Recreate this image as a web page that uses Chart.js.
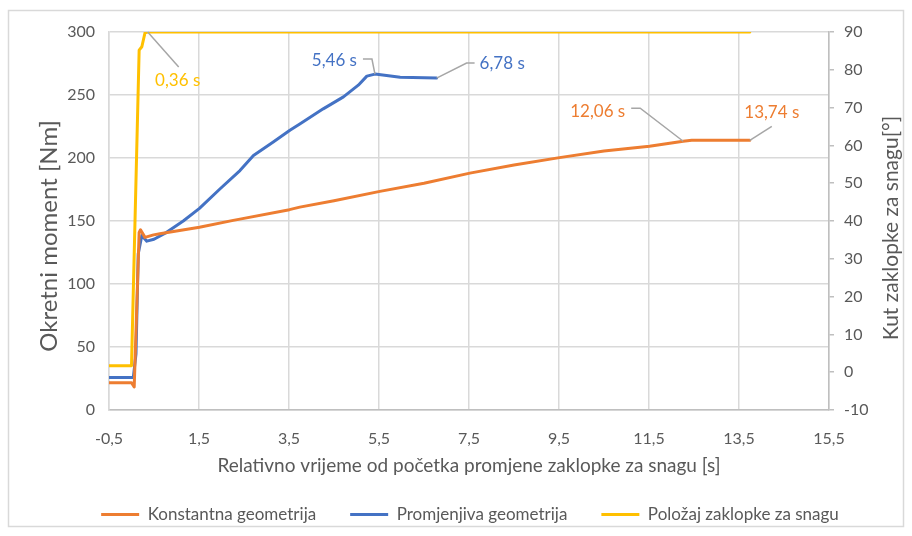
<!DOCTYPE html>
<html>
<head>
<meta charset="utf-8">
<script src="https://cdn.jsdelivr.net/npm/chart.js@4.4.0/dist/chart.umd.min.js"></script>
<style>
  body { margin: 0; background: #fff; }
</style>
</head>
<body>
<canvas id="myChart" width="912" height="536"></canvas>
<script>
const xTicks = [-0.5, 1.5, 3.5, 5.5, 7.5, 9.5, 11.5, 13.5, 15.5];
const seriesNames = ['Konstantna geometrija', 'Promjenjiva geometrija', 'Položaj zaklopke za snagu'];
const axisTitles = ['Relativno vrijeme od početka promjene zaklopke za snagu [s]', 'Okretni moment [Nm]', 'Kut zaklopke za snagu[°]'];

// Konstantna geometrija [Nm]
const constTime = [-0.5, 0.0, 0.06, 0.17, 0.2, 0.3, 0.49, 0.63, 1.0, 1.51, 2.26, 2.41, 3.51, 3.74, 4.5, 5.52, 6.5, 7.52, 8.5, 9.51, 10.5, 11.51, 12.26, 12.45, 13.74];
const constTorque = [21.7, 21.7, 18.3, 141, 143, 137, 139, 139.8, 142, 145, 150.5, 151.5, 159, 161, 166, 173.5, 180, 188, 194.5, 200.3, 205.5, 209.3, 213.3, 214, 214];

// Promjenjiva geometrija [Nm]
const varTime = [-0.5, 0.04, 0.1, 0.15, 0.23, 0.34, 0.5, 0.78, 1.15, 1.51, 1.97, 2.41, 2.71, 3.15, 3.52, 3.74, 4.26, 4.71, 5.04, 5.23, 5.41, 5.97, 6.78];
const varTorque = [25.7, 25.7, 44.6, 124, 138.5, 134, 135.5, 141, 150, 160, 175.6, 190, 202, 212.7, 222, 227, 239, 248.5, 257.8, 265, 266.6, 264, 263.4];

// Položaj zaklopke [°]
const flapTime = [-0.5, 0.0, 0.17, 0.23, 0.3, 0.36, 13.74];
const flapAngle = [1.7, 1.7, 85.2, 86.1, 89.8, 90, 90];

const pointLabels = ['0,36 s', '5,46 s', '6,78 s', '12,06 s', '13,74 s'];

const colors = ['#ED7D31', '#4472C4', '#FFC000'];
const textColor = '#595959';
const fontFamily = 'Lato, "Open Sans", sans-serif';

function toPoints(xs, ys) {
    return xs.map((x, i) => ({ x: x, y: ys[i] }));
}
function fmt(v) {
    return String(v).replace('.', ',');
}

// data labels with leader lines (dataset, point index, offsets in px)
const leaders = [
    { ds: 2, idx: 5, text: pointLabels[0], path: [[31, 35]], tx: 30, ty: 49, align: 'center' },
    { ds: 1, idx: 20, text: pointLabels[1], path: [[-3, -15], [-12, -15]], tx: -18, ty: -14, align: 'right' },
    { ds: 1, idx: 22, text: pointLabels[2], path: [[30, -15], [38, -15]], tx: 43, ty: -15, align: 'left' },
    { ds: 0, idx: 22, text: pointLabels[3], path: [[-43, -33], [-52, -33]], tx: -58, ty: -30, align: 'right' },
    { ds: 0, idx: 24, text: pointLabels[4], path: [[22, -14]], tx: 22, ty: -28, align: 'center' }
];

function drawVerticalTitle(ctx, text, x, y, size) {
    ctx.save();
    ctx.translate(x, y);
    ctx.rotate(-Math.PI / 2);
    ctx.fillStyle = textColor;
    ctx.font = size + 'px ' + fontFamily;
    ctx.textAlign = 'center';
    ctx.textBaseline = 'middle';
    ctx.fillText(text, 0, 0);
    ctx.restore();
}

const extras = {
    id: 'extras',
    beforeDraw(chart) {
        const ctx = chart.ctx;
        ctx.save();
        ctx.strokeStyle = '#d9d9d9';
        ctx.lineWidth = 1.5;
        ctx.strokeRect(8.5, 10.5, 895, 516);
        ctx.restore();
    },
    afterDatasetsDraw(chart) {
        const ctx = chart.ctx;
        leaders.forEach(l => {
            const pt = chart.getDatasetMeta(l.ds).data[l.idx];
            ctx.save();
            ctx.strokeStyle = '#a6a6a6';
            ctx.lineWidth = 1.5;
            ctx.beginPath();
            ctx.moveTo(pt.x, pt.y);
            l.path.forEach(p => ctx.lineTo(pt.x + p[0], pt.y + p[1]));
            ctx.stroke();
            ctx.fillStyle = colors[l.ds];
            ctx.font = '17px ' + fontFamily;
            ctx.textAlign = l.align;
            ctx.textBaseline = 'middle';
            ctx.fillText(l.text, pt.x + l.tx, pt.y + l.ty);
            ctx.restore();
        });
    },
    afterDraw(chart) {
        // both y titles read bottom-to-top, as in the original
        drawVerticalTitle(chart.ctx, axisTitles[1], 49, 236, 24);
        drawVerticalTitle(chart.ctx, axisTitles[2], 891, 228, 21);
    }
};

const ctx = document.getElementById('myChart').getContext('2d');
// eslint-disable-next-line no-undef
new Chart(ctx, {
    type: 'line',
    data: {
        datasets: [{
            label: seriesNames[0],
            data: toPoints(constTime, constTorque),
            borderColor: colors[0],
            backgroundColor: colors[0],
            borderWidth: 3,
            yAxisID: 'y'
        }, {
            label: seriesNames[1],
            data: toPoints(varTime, varTorque),
            borderColor: colors[1],
            backgroundColor: colors[1],
            borderWidth: 3,
            yAxisID: 'y'
        }, {
            label: seriesNames[2],
            data: toPoints(flapTime, flapAngle),
            borderColor: colors[2],
            backgroundColor: colors[2],
            borderWidth: 3,
            yAxisID: 'y1'
        }]
    },
    options: {
        responsive: false,
        animation: false,
        devicePixelRatio: 1,
        elements: {
            point: { radius: 0 },
            line: { tension: 0, borderJoinStyle: 'round', borderCapStyle: 'round' }
        },
        layout: { padding: { top: 32, left: 28, right: 0, bottom: 3 } },
        scales: {
            x: {
                type: 'linear',
                min: -0.5,
                max: 15.5,
                afterBuildTicks: scale => { scale.ticks = xTicks.map(v => ({ value: v })); },
                afterFit: scale => { scale.height = 62; },
                ticks: {
                    color: textColor,
                    font: { family: fontFamily, size: 16 },
                    padding: 19,
                    maxRotation: 0,
                    callback: v => fmt(v)
                },
                grid: { color: '#d9d9d9', lineWidth: 1.5, drawTicks: false },
                border: { color: '#bfbfbf', width: 1.5 },
                title: {
                    display: true,
                    text: axisTitles[0],
                    color: textColor,
                    font: { family: fontFamily, size: 19 },
                    padding: { top: 0, bottom: -5 }
                }
            },
            y: {
                position: 'left',
                min: 0,
                max: 300,
                afterFit: scale => { scale.width = 81; },
                ticks: {
                    stepSize: 50,
                    color: textColor,
                    font: { family: fontFamily, size: 16 },
                    padding: 14
                },
                grid: { color: '#d9d9d9', lineWidth: 1.5, drawTicks: false },
                border: { color: '#d9d9d9', width: 1.5 }
            },
            y1: {
                position: 'right',
                min: -10,
                max: 90,
                afterFit: scale => { scale.width = 83; },
                ticks: {
                    stepSize: 10,
                    color: textColor,
                    font: { family: fontFamily, size: 16 },
                    padding: 10
                },
                grid: { drawOnChartArea: false, color: '#bfbfbf', lineWidth: 1.5, tickLength: 5 },
                border: { color: '#bfbfbf', width: 1.5 }
            }
        },
        plugins: {
            legend: {
                position: 'bottom',
                labels: {
                    color: textColor,
                    font: { family: fontFamily, size: 17 },
                    usePointStyle: true,
                    pointStyle: 'line',
                    pointStyleWidth: 38,
                    padding: 34
                }
            },
            tooltip: { enabled: false }
        }
    },
    plugins: [extras]
});
</script>
</body>
</html>
